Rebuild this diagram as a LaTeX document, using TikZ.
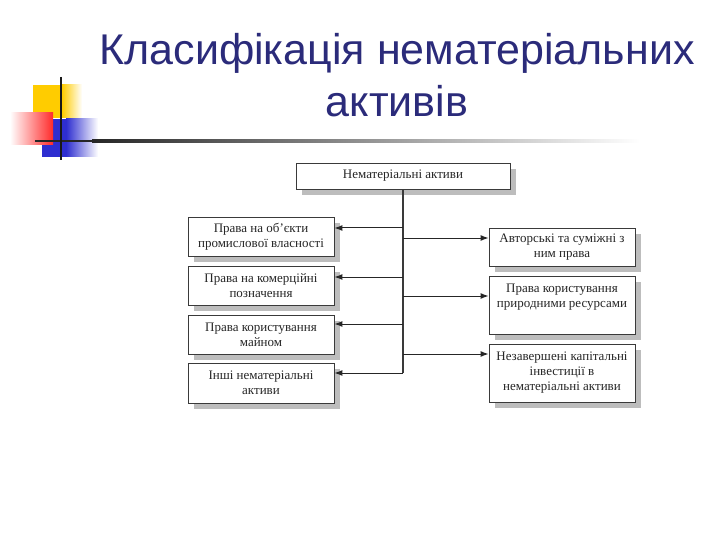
\documentclass[tikz,border=0pt]{standalone}
\usepackage{fontspec}
\setmainfont{Liberation Serif}
\newfontfamily\titlefont{Liberation Sans}
\usetikzlibrary{arrows.meta, positioning, calc, shadows}
\definecolor{titleblue}{HTML}{2B2B7A}
\definecolor{boxedge}{HTML}{3A3A3A}
\definecolor{shadowgray}{HTML}{BDBDBD}
\definecolor{decoyellow}{HTML}{FFCC00}
\definecolor{decored}{HTML}{FF2A2A}
\definecolor{decoblue}{HTML}{2E2ED0}

\begin{document}
\begin{tikzpicture}[
    x=1pt, y=-1pt,
    font=\fontsize{13}{15}\selectfont,
    >={Latex[length=8pt,width=6pt]},
    classbox/.style={
      draw=boxedge, fill=white, line width=0.9pt,
      align=center, inner sep=2pt,
      minimum width=146pt, minimum height=39pt,
      text=black!85,
      drop shadow={shadow xshift=6pt, shadow yshift=-6pt,
                   fill=shadowgray, opacity=1},
    },
    trunkline/.style={line width=1.8pt, color=boxedge},
    brancharrow/.style={->, line width=1pt, color=black!85},
    titletext/.style={font=\titlefont\fontsize{43}{52}\selectfont,
                      color=titleblue, align=center, anchor=base},
  ]
  \useasboundingbox (0,0) rectangle (720,540);

  % -----------------------------------------------------------
  % Slide decoration (top left) and title
  % -----------------------------------------------------------
  \fill[decoyellow] (33,85) rectangle (62,118);
  \shade[left color=decoyellow, right color=white] (62,85) rectangle (82,118);
  \fill[decoblue] (42,119) rectangle (66,157);
  \shade[left color=decoblue, right color=white] (66,119) rectangle (98,157);
  \shade[left color=white, right color=decored] (10,113) rectangle (53,145);
  \fill[black!85] (35,140) rectangle (92,142.5);
  \shade[left color=black!85, right color=white] (92,140) rectangle (640,142.5);
  \draw[line width=2.4pt, color=black!90] (61,77) -- (61,160);

  % base anchor sits on the last line here
  \node[titletext] (title) at (397,117)
        {Класифікація нематеріальних\\активів};

  % -----------------------------------------------------------
  % Classification boxes
  % -----------------------------------------------------------
  \node[classbox, minimum width=214pt, minimum height=26pt]
                  (root) at (403,176) {Нематеріальні активи};

  \node[classbox] (ind)  at (261,236.5) {Права на об'єкти\\промислової власності};
  \node[classbox] (com)  at (261,285.5) {Права на комерційні\\позначення};
  \node[classbox] (prop) at (261,334.5) {Права користування\\майном};
  \node[classbox, minimum height=40pt]
                  (oth)  at (261,383)   {Інші нематеріальні\\активи};

  \node[classbox, minimum height=38pt]
                  (auth) at (562,247)   {Авторські та суміжні з\\ним права};
  \node[classbox, minimum height=58pt]
                  (nat)  at (562,305)   {Права користування\\природними ресурсами\\\strut};
  \node[classbox, minimum height=58pt]
                  (inv)  at (562,373)   {Незавершені капітальні\\інвестиції в\\нематеріальні активи};

  % -----------------------------------------------------------
  % Trunk and branches
  % -----------------------------------------------------------
  \coordinate (trunkend) at ($(root.south |- oth.east)+(0,-10)$);
  \draw[trunkline] (root.south) -- (trunkend);

  \foreach \b/\dy in {ind/8.5, com/8.5, prop/10.5, oth/10}
    \draw[brancharrow] ($(root.south |- \b.east)+(0,-\dy)$) -- ($(\b.east)+(0,-\dy)$);

  \foreach \b/\dy in {auth/9, nat/9, inv/19}
    \draw[brancharrow] ($(root.south |- \b.west)+(0,-\dy)$) -- ($(\b.west)+(0,-\dy)$);

\end{tikzpicture}
\end{document}
